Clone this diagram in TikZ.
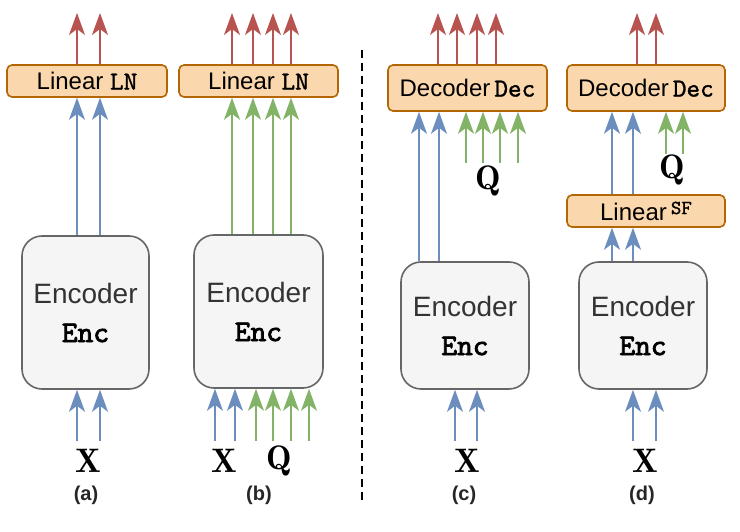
\documentclass[tikz,border=0pt]{standalone}
\usepackage{fontspec}
\setsansfont{Liberation Sans}
\newfontfamily\monob{lmmono10-regular.otf}[FakeBold=2.5]
\newfontfamily\monom{lmmono10-regular.otf}[FakeBold=1.2]
\usetikzlibrary{arrows.meta, positioning, calc}
\definecolor{myred}{HTML}{B85450}
\definecolor{myblue}{HTML}{6C8EBF}
\definecolor{mygreen}{HTML}{82B366}
\definecolor{linfill}{HTML}{FAD7AC}
\definecolor{linline}{HTML}{B46504}
\definecolor{encfill}{HTML}{F5F5F5}
\definecolor{encline}{HTML}{666666}
\definecolor{enctext}{HTML}{333333}

\tikzset{
  encbox/.style={draw=encline, fill=encfill, line width=1.6pt, rounded corners=20pt, align=center, text=enctext, font=\sffamily\fontsize{28}{32}\selectfont},
  linbox/.style={draw=linline, fill=linfill, line width=1.6pt, rounded corners=5pt, inner sep=0pt, font=\sffamily\fontsize{24}{26}\selectfont},
  arr/.style={line width=1.8pt, -{Stealth[length=22pt, width=16pt, inset=6pt]}},
  redarr/.style={arr, draw=myred, fill=myred},
  bluearr/.style={arr, draw=myblue, fill=myblue},
  greenarr/.style={arr, draw=mygreen, fill=mygreen},
  varlbl/.style={inner sep=0pt, font=\fontsize{34}{34}\selectfont},
  caplbl/.style={inner sep=0pt, text=black!85, font=\sffamily\bfseries\fontsize{20}{20}\selectfont}
}
\newcommand{\enclabel}{Encoder\\[7pt]{\monob\fontsize{30}{32}\selectfont\color{black} Enc}}
\newcommand{\codelbl}[1]{{\monom\fontsize{26}{26}\selectfont #1}}

\begin{document}
\begin{tikzpicture}[x=1pt, y=-1pt]
  \useasboundingbox (0,0) rectangle (740,532);

  % --- free ends ---
  \coordinate (top) at (0,13);
  \coordinate (bot) at (0,441);

  % --- (a) ---
  \node[linbox, minimum width=160pt, minimum height=32pt] (lnA) at (87,81) {Linear \codelbl{LN}};
  \node[encbox, minimum width=127pt, minimum height=153pt] (encA) at (85.5,312.5) {\enclabel};
  \foreach \x in {77,100} {
    \draw[redarr] (\x,0 |- lnA.north) -- (\x,0 |- top);
    \draw[bluearr] (\x,0 |- encA.north) -- (\x,0 |- lnA.south);
    \draw[bluearr] (\x,0 |- bot) -- (\x,0 |- encA.south);
  }
  \node[varlbl] (xA) at (88,461) {$\mathbf{X}$};
  \node[caplbl] (capA) at (86,495) {(a)};

  % --- (b) ---
  \node[linbox, minimum width=159pt, minimum height=32pt] (lnB) at (258.5,81) {Linear \codelbl{LN}};
  \node[encbox, minimum width=129pt, minimum height=153pt] (encB) at (258.5,311.5) {\enclabel};
  \foreach \x in {232,253,273,291} {
    \draw[redarr] (\x,0 |- lnB.north) -- (\x,0 |- top);
    \draw[greenarr] (\x,0 |- encB.north) -- (\x,0 |- lnB.south);
  }
  \foreach \x in {215,235}
    \draw[bluearr] (\x,0 |- bot) -- (\x,0 |- encB.south);
  \foreach \x in {256,273,291,309}
    \draw[greenarr] (\x,0 |- bot) -- (\x,0 |- encB.south);
  \node[varlbl] (xB) at (224,461) {$\mathbf{X}$};
  \node[varlbl] (qB) at (279,461) {$\mathbf{Q}$};
  \node[caplbl] (capB) at (259,495) {(b)};

  % --- separator ---
  \coordinate (sepT) at (362,50);
  \coordinate (sepB) at (362,500);
  \draw[line width=1.8pt, dash pattern=on 8pt off 5pt] (sepT) -- (sepB);

  % --- (c) ---
  \node[linbox, minimum width=159pt, minimum height=46pt] (decC) at (467.5,88) {Decoder\,\codelbl{Dec}};
  \node[encbox, minimum width=128pt, minimum height=127pt] (encC) at (465,325.5) {\enclabel};
  \coordinate (qtopC) at (0,163);
  \foreach \x in {438,457,477,496}
    \draw[redarr] (\x,0 |- decC.north) -- (\x,0 |- top);
  \foreach \x in {419,439}
    \draw[bluearr] (\x,0 |- encC.north) -- (\x,0 |- decC.south);
  \foreach \x in {466,483,500,518}
    \draw[greenarr] (\x,0 |- qtopC) -- (\x,0 |- decC.south);
  \foreach \x in {455,477}
    \draw[bluearr] (\x,0 |- bot) -- (\x,0 |- encC.south);
  \node[varlbl] (qC) at (488,181) {$\mathbf{Q}$};
  \node[varlbl] (xC) at (467,461) {$\mathbf{X}$};
  \node[caplbl] (capC) at (464,495) {(c)};

  % --- (d) ---
  \node[linbox, minimum width=158pt, minimum height=46pt] (decD) at (646,88) {Decoder\,\codelbl{Dec}};
  \node[linbox, minimum width=158pt, minimum height=32pt] (sfD) at (646,211) {Linear\,{\monom\fontsize{20}{20}\selectfont\raisebox{6pt}{SF}}};
  \node[encbox, minimum width=128pt, minimum height=127pt] (encD) at (643,325.5) {\enclabel};
  \coordinate (qtopD) at (0,154);
  \foreach \x in {637,656}
    \draw[redarr] (\x,0 |- decD.north) -- (\x,0 |- top);
  \foreach \x in {612,633} {
    \draw[bluearr] (\x,0 |- sfD.north) -- (\x,0 |- decD.south);
    \draw[bluearr] (\x,0 |- encD.north) -- (\x,0 |- sfD.south);
  }
  \foreach \x in {666,683}
    \draw[greenarr] (\x,0 |- qtopD) -- (\x,0 |- decD.south);
  \foreach \x in {633,656}
    \draw[bluearr] (\x,0 |- bot) -- (\x,0 |- encD.south);
  \node[varlbl] (qD) at (672,170) {$\mathbf{Q}$};
  \node[varlbl] (xD) at (645,461) {$\mathbf{X}$};
  \node[caplbl] (capD) at (642,495) {(d)};
\end{tikzpicture}
\end{document}
